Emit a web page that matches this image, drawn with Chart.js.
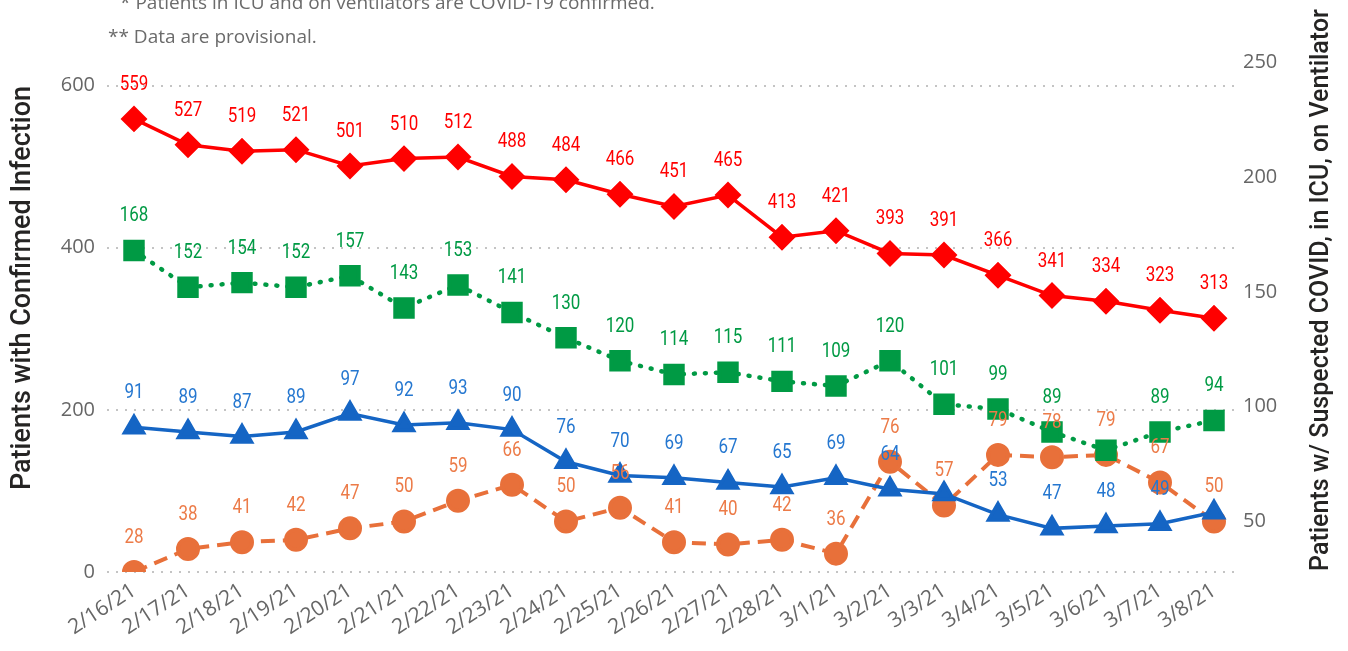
<!DOCTYPE html>
<html>
<head>
<meta charset="utf-8">
<script src="https://cdn.jsdelivr.net/npm/chart.js@4"></script>
<style>
  html, body { margin: 0; padding: 0; background: #fff; overflow: hidden; }
  #wrap { position: relative; width: 1348px; height: 651px; }
  .note { position: absolute; font-family: 'Open Sans', 'Noto Sans', sans-serif; font-size: 19px; color: #6b6b6b; white-space: nowrap; }
</style>
</head>
<body>
<div id="wrap">
  <canvas id="chart" width="1348" height="651"></canvas>
  <div class="note" style="left:120px; top:-11px;">* Patients in ICU and on ventilators are COVID-19 confirmed.</div>
  <div class="note" style="left:108px; top:23px;">** Data are provisional.</div>
</div>
<script>
// Dates on the x axis
const dates = ['2/16/21', '2/17/21', '2/18/21', '2/19/21', '2/20/21', '2/21/21', '2/22/21',
  '2/23/21', '2/24/21', '2/25/21', '2/26/21', '2/27/21', '2/28/21', '3/1/21', '3/2/21',
  '3/3/21', '3/4/21', '3/5/21', '3/6/21', '3/7/21', '3/8/21'];

// Left axis
const confirmed = [559, 527, 519, 521, 501, 510, 512, 488, 484, 466, 451, 465, 413, 421, 393, 391, 366, 341, 334, 323, 313];
// Right axis
const suspected  = [168, 152, 154, 152, 157, 143, 153, 141, 130, 120, 114, 115, 111, 109, 120, 101, 99, 89, 81, 89, 94];
const icu        = [91, 89, 87, 89, 97, 92, 93, 90, 76, 70, 69, 67, 65, 69, 64, 62, 53, 47, 48, 49, 54];
const ventilator = [28, 38, 41, 42, 47, 50, 59, 66, 50, 56, 41, 40, 42, 36, 76, 57, 79, 78, 79, 67, 50];

const leftTicks  = [0, 200, 400, 600];
const rightTicks = [50, 100, 150, 200, 250];

// labels the original hides (overlaps)
const hiddenLabels = { suspected: [18], icu: [15, 20] };

const RED = '#ff0000', GREEN = '#009a44', BLUE = '#1565c4', ORANGE = '#e8703a';
const leftTitle = 'Patients with Confirmed Infection';
const rightTitle = 'Patients w/ Suspected COVID, in ICU, on Ventilator';

function drawVertical(ctx, text, x, y, font) {
  ctx.save();
  ctx.translate(x, y);
  ctx.rotate(-Math.PI / 2);
  ctx.font = font;
  ctx.fillStyle = '#252423';
  ctx.textAlign = 'center';
  ctx.textBaseline = 'middle';
  ctx.fillText(text, 0, 0);
  ctx.restore();
}

// Etiquettes au-dessus des points + titres des axes (lus de bas en haut)
const valueLabels = {
  id: 'valueLabels',
  afterDatasetsDraw(chart) {
    const { ctx } = chart;
    ctx.save();
    ctx.font = '20px Roboto, sans-serif';
    ctx.textAlign = 'center';
    ctx.textBaseline = 'middle';
    chart.data.datasets.forEach((ds, di) => {
      const meta = chart.getDatasetMeta(di);
      const skip = hiddenLabels[ds.key] || [];
      ctx.fillStyle = ds.labelColor;
      meta.data.forEach((pt, i) => {
        if (skip.includes(i)) return;
        ctx.save();
        ctx.translate(pt.x, pt.y - 34);
        ctx.scale(0.85, 1);
        ctx.fillText(String(ds.data[i]), 0, 0);
        ctx.restore();
      });
    });
    ctx.restore();
  },
  afterDraw(chart) {
    const { ctx } = chart;
    drawVertical(ctx, leftTitle, 23, 288, '500 27px Roboto, sans-serif');
    drawVertical(ctx, rightTitle, 1322, 290, '500 25px Roboto, sans-serif');
  }
};

const tickFont = { family: "'Open Sans', 'Noto Sans', sans-serif", size: 20 };
const xFont = { family: "'Open Sans', 'Noto Sans', sans-serif", size: 21 };

new Chart(document.getElementById('chart'), {
  type: 'line',
  data: {
    labels: dates,
    datasets: [
      {
        key: 'confirmed', label: 'Confirmed', data: confirmed, yAxisID: 'y',
        borderColor: RED, backgroundColor: RED, labelColor: RED,
        borderWidth: 3.5, pointStyle: 'rectRot', pointRadius: 11, pointHoverRadius: 11
      },
      {
        key: 'suspected', label: 'Suspected', data: suspected, yAxisID: 'y1',
        borderColor: GREEN, backgroundColor: GREEN, labelColor: GREEN,
        borderWidth: 4.5, borderDash: [1, 10], borderCapStyle: 'round',
        pointStyle: 'rect', pointRadius: 12, pointHoverRadius: 12
      },
      {
        key: 'icu', label: 'ICU', data: icu, yAxisID: 'y1',
        borderColor: BLUE, backgroundColor: BLUE, labelColor: '#2577d0',
        borderWidth: 3.5, pointStyle: 'triangle', pointRadius: 11, pointHoverRadius: 11
      },
      {
        key: 'ventilator', label: 'Ventilator', data: ventilator, yAxisID: 'y1',
        borderColor: ORANGE, backgroundColor: ORANGE, labelColor: '#ec7b48',
        borderWidth: 4, borderDash: [14, 8],
        pointStyle: 'circle', pointRadius: 10, pointHoverRadius: 10
      }
    ]
  },
  options: {
    responsive: false,
    animation: false,
    devicePixelRatio: 1,
    layout: { padding: { top: 50, left: 8, right: 10, bottom: 0 } },
    plugins: { legend: { display: false }, tooltip: { enabled: false } },
    elements: { line: { tension: 0 }, point: { borderWidth: 0 } },
    scales: {
      x: {
        offset: true,
        grid: { display: false, drawTicks: false },
        border: { display: false },
        ticks: { color: '#666', font: xFont, maxRotation: 33, minRotation: 33, autoSkip: false, padding: 6 },
        afterFit: (s) => { s.height = 79; }
      },
      y: {
        position: 'left', min: 0, max: 644,
        afterBuildTicks: (s) => { s.ticks = leftTicks.map(v => ({ value: v })); },
        grid: { color: '#c4c4c4', lineWidth: 2, drawTicks: false },
        border: { display: false, dash: [2, 7] },
        ticks: { color: '#666', font: tickFont, padding: 12 },
        afterFit: (s) => { s.width = 99; }
      },
      y1: {
        position: 'right', min: 28, max: 255.3,
        afterBuildTicks: (s) => { s.ticks = rightTicks.map(v => ({ value: v })); },
        grid: { display: false, drawTicks: false },
        border: { display: false },
        ticks: { color: '#666', font: tickFont, padding: 2 },
        afterFit: (s) => { s.width = 97; }
      }
    }
  },
  plugins: [valueLabels]
});
</script>
</body>
</html>
